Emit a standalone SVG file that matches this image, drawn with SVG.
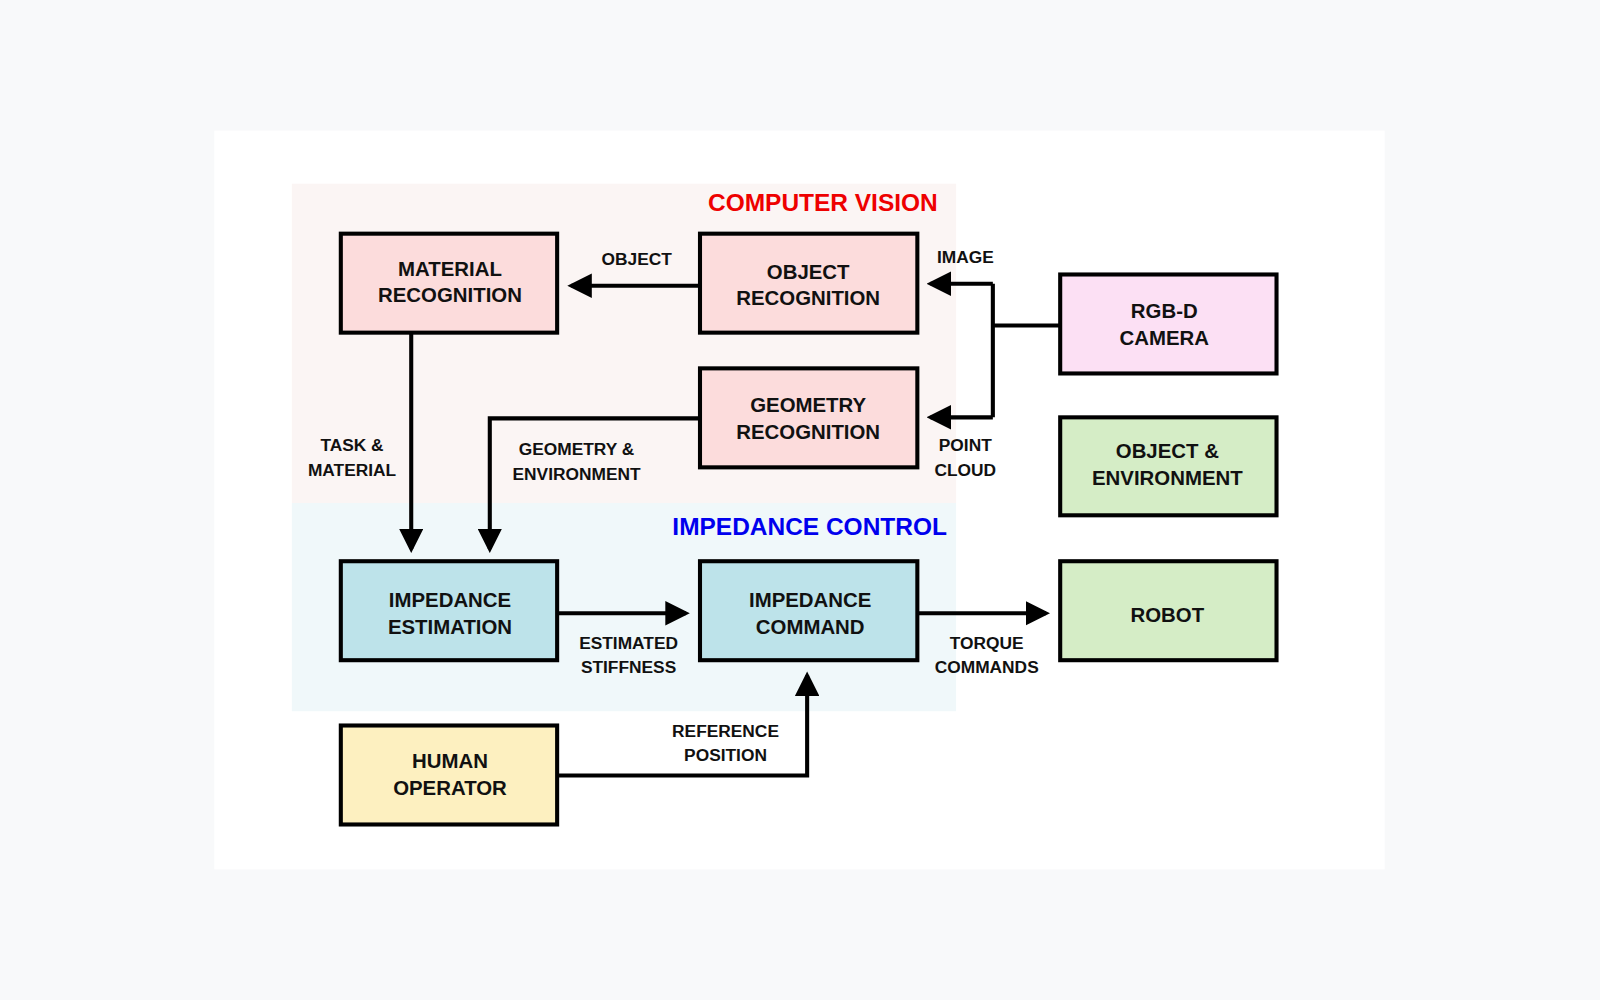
<svg xmlns="http://www.w3.org/2000/svg" width="1600" height="1000" viewBox="0 0 1600 1000">
<defs>
<marker id="ah" markerWidth="6" markerHeight="6" refX="5" refY="3" orient="auto" markerUnits="strokeWidth"><path d="M0,0 L6,3 L0,6 z" fill="#000"/></marker>
<style>
.box{stroke:#000;stroke-width:4}
.t{font-family:"Liberation Sans",Arial,sans-serif;font-weight:bold;font-size:20px;text-anchor:middle;fill:#111}
.l{font-family:"Liberation Sans",Arial,sans-serif;font-weight:bold;font-size:17px;text-anchor:middle;fill:#111}
.c{fill:none;stroke:#000;stroke-width:4}
</style>
</defs>
<rect width="1600" height="1000" fill="#f8f9fa"/>
<g transform="scale(1.0204)">
<rect x="210" y="128" width="1147" height="724" fill="#fff"/>
<rect x="286" y="180" width="651" height="313" fill="#fbf5f4"/>
<rect x="286" y="493" width="651" height="204" fill="#f0f8fa"/>
<text x="919" y="207" font-family="Liberation Sans,Arial,sans-serif" font-weight="bold" font-size="24" fill="#ee0000" text-anchor="end">COMPUTER VISION</text>
<text x="928" y="524" font-family="Liberation Sans,Arial,sans-serif" font-weight="bold" font-size="24" fill="#0000ee" text-anchor="end">IMPEDANCE CONTROL</text>
<g id="connectors">
<path class="c" d="M686,280 H560" marker-end="url(#ah)"/>
<path class="c" d="M1039,319 H973 M973,278 V409"/>
<path class="c" d="M973,278 H912" marker-end="url(#ah)"/>
<path class="c" d="M973,409 H912" marker-end="url(#ah)"/>
<path class="c" d="M403,326 V538" marker-end="url(#ah)"/>
<path class="c" d="M686,410 H480 V538" marker-end="url(#ah)"/>
<path class="c" d="M546,601 H672" marker-end="url(#ah)"/>
<path class="c" d="M899,601 H1025" marker-end="url(#ah)"/>
<path class="c" d="M546,760 H791 V662" marker-end="url(#ah)"/>
<text class="l" x="624" y="260">OBJECT</text>
<text class="l" x="946" y="258">IMAGE</text>
<text class="l" x="946" y="442">POINT</text><text class="l" x="946" y="466">CLOUD</text>
<text class="l" x="345" y="442">TASK &amp;</text><text class="l" x="345" y="466">MATERIAL</text>
<text class="l" x="565" y="446">GEOMETRY &amp;</text><text class="l" x="565" y="470">ENVIRONMENT</text>
<text class="l" x="616" y="636">ESTIMATED</text><text class="l" x="616" y="660">STIFFNESS</text>
<text class="l" x="967" y="636">TORQUE</text><text class="l" x="967" y="660">COMMANDS</text>
<text class="l" x="711" y="722">REFERENCE</text><text class="l" x="711" y="746">POSITION</text>
</g>
<g id="material"><rect class="box" x="334" y="229" width="212" height="97" fill="#fcdcdc"/><text class="t" x="441" y="270">MATERIAL</text><text class="t" x="441" y="296">RECOGNITION</text></g>
<g id="object"><rect class="box" x="686" y="229" width="213" height="97" fill="#fcdcdc"/><text class="t" x="792" y="273">OBJECT</text><text class="t" x="792" y="299">RECOGNITION</text></g>
<g id="geometry"><rect class="box" x="686" y="361" width="213" height="97" fill="#fcdcdc"/><text class="t" x="792" y="404">GEOMETRY</text><text class="t" x="792" y="430">RECOGNITION</text></g>
<g id="camera"><rect class="box" x="1039" y="269" width="212" height="97" fill="#fce0f4"/><text class="t" x="1141" y="312">RGB-D</text><text class="t" x="1141" y="338">CAMERA</text></g>
<g id="objenv"><rect class="box" x="1039" y="409" width="212" height="96" fill="#d5edc6"/><text class="t" x="1144" y="449">OBJECT &amp;</text><text class="t" x="1144" y="475">ENVIRONMENT</text></g>
<g id="impest"><rect class="box" x="334" y="550" width="212" height="97" fill="#bde3ea"/><text class="t" x="441" y="595">IMPEDANCE</text><text class="t" x="441" y="621">ESTIMATION</text></g>
<g id="impcmd"><rect class="box" x="686" y="550" width="213" height="97" fill="#bde3ea"/><text class="t" x="794" y="595">IMPEDANCE</text><text class="t" x="794" y="621">COMMAND</text></g>
<g id="robot"><rect class="box" x="1039" y="550" width="212" height="97" fill="#d5edc6"/><text class="t" x="1144" y="610" font-size="27">ROBOT</text></g>
<g id="human"><rect class="box" x="334" y="711" width="212" height="97" fill="#fdf0c0"/><text class="t" x="441" y="753">HUMAN</text><text class="t" x="441" y="779">OPERATOR</text></g>
</g>
</svg>
